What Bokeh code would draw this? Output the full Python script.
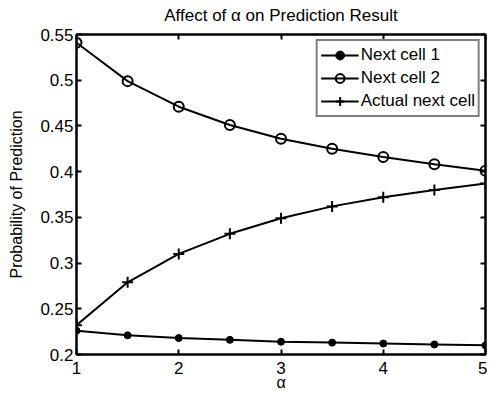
from bokeh.plotting import figure
from bokeh.models import LinearAxis, Range1d, FixedTicker, Legend
from bokeh.embed import file_html
from bokeh.resources import INLINE

alpha = [1, 1.5, 2, 2.5, 3, 3.5, 4, 4.5, 5]
next_cell_1 = [0.226, 0.221, 0.218, 0.216, 0.214, 0.213, 0.212, 0.211, 0.210]
next_cell_2 = [0.541, 0.499, 0.471, 0.451, 0.436, 0.425, 0.416, 0.408, 0.401]
actual_next = [0.232, 0.279, 0.310, 0.332, 0.349, 0.362, 0.372, 0.380, 0.387]

x_ticks = [1, 2, 3, 4, 5]
y_ticks = [0.2, 0.25, 0.3, 0.35, 0.4, 0.45, 0.5, 0.55]
y_labels = {0.2: "0.2", 0.25: "0.25", 0.3: "0.3", 0.35: "0.35", 0.4: "0.4", 0.45: "0.45", 0.5: "0.5", 0.55: "0.55"}
title_text = "Affect of \u03b1 on Prediction Result"

FONT = "Liberation Sans"

p = figure(width=487, height=393, output_backend="svg", toolbar_location=None,
           x_range=Range1d(1, 5), y_range=Range1d(0.2, 0.55),
           min_border_left=76, min_border_top=34, min_border_right=2, min_border_bottom=39)

p.grid.visible = False
p.outline_line_color = "black"
p.outline_line_width = 2

for ax in [p.xaxis[0], p.yaxis[0]]:
    ax.major_label_text_font = FONT
    ax.major_label_text_font_size = "17px"
    ax.major_label_text_color = "black"
    ax.axis_label_text_font = FONT
    ax.axis_label_text_font_size = "16px"
    ax.axis_label_text_font_style = "normal"
    ax.axis_label_text_color = "black"
    ax.major_tick_in = 5
    ax.major_tick_out = 0
    ax.minor_tick_in = 0
    ax.minor_tick_out = 0
    ax.axis_line_width = 2
    ax.major_tick_line_width = 2
    ax.major_label_standoff = 3

p.xaxis[0].ticker = FixedTicker(ticks=x_ticks)
p.yaxis[0].ticker = FixedTicker(ticks=y_ticks)
p.yaxis[0].major_label_overrides = y_labels
p.xaxis[0].axis_label = "\u03b1"
p.yaxis[0].axis_label = "Probability of Prediction"
p.xaxis[0].major_label_standoff = 7
p.xaxis[0].axis_label_standoff = -3
p.yaxis[0].axis_label_standoff = 12

extra = {}
for loc, ticks in [("above", x_ticks), ("right", y_ticks)]:
    ax = LinearAxis(ticker=FixedTicker(ticks=ticks))
    ax.major_label_overrides = {t: "" for t in ticks}
    ax.major_label_standoff = 0
    ax.major_tick_in = 5
    ax.major_tick_out = 0
    ax.minor_tick_in = 0
    ax.minor_tick_out = 0
    ax.axis_line_width = 2
    ax.major_tick_line_width = 2
    p.add_layout(ax, loc)
    extra[loc] = ax

# chart title, drawn as the label of the top axis
top = extra["above"]
top.axis_label = title_text
top.axis_label_text_font = FONT
top.axis_label_text_font_size = "17px"
top.axis_label_text_font_style = "normal"
top.axis_label_text_color = "black"
top.axis_label_standoff = 10

r1l = p.line(alpha, next_cell_1, line_color="black", line_width=2)
r1m = p.scatter(alpha, next_cell_1, marker="circle", size=7, fill_color="black", line_color="black")
r2l = p.line(alpha, next_cell_2, line_color="black", line_width=2)
r2m = p.scatter(alpha, next_cell_2, marker="circle", size=10, fill_color=None, line_color="black", line_width=2)
r3l = p.line(alpha, actual_next, line_color="black", line_width=2)
r3m = p.scatter(alpha, actual_next, marker="cross", size=11, line_color="black", line_width=2)

legend = Legend(items=[("Next cell 1", [r1l, r1m]), ("Next cell 2", [r2l, r2m]),
                       ("Actual next cell", [r3l, r3m])],
                location="top_right")
legend.label_text_font = FONT
legend.label_text_font_size = "17px"
legend.label_text_color = "black"
legend.border_line_color = "black"
legend.border_line_width = 2
legend.margin = 5
legend.padding = 3
legend.spacing = 1
legend.label_height = 22
legend.glyph_width = 38
legend.glyph_height = 22
legend.label_standoff = 2
legend.background_fill_alpha = 1
p.add_layout(legend, "center")

open("out.html", "w").write(file_html(p, INLINE))
